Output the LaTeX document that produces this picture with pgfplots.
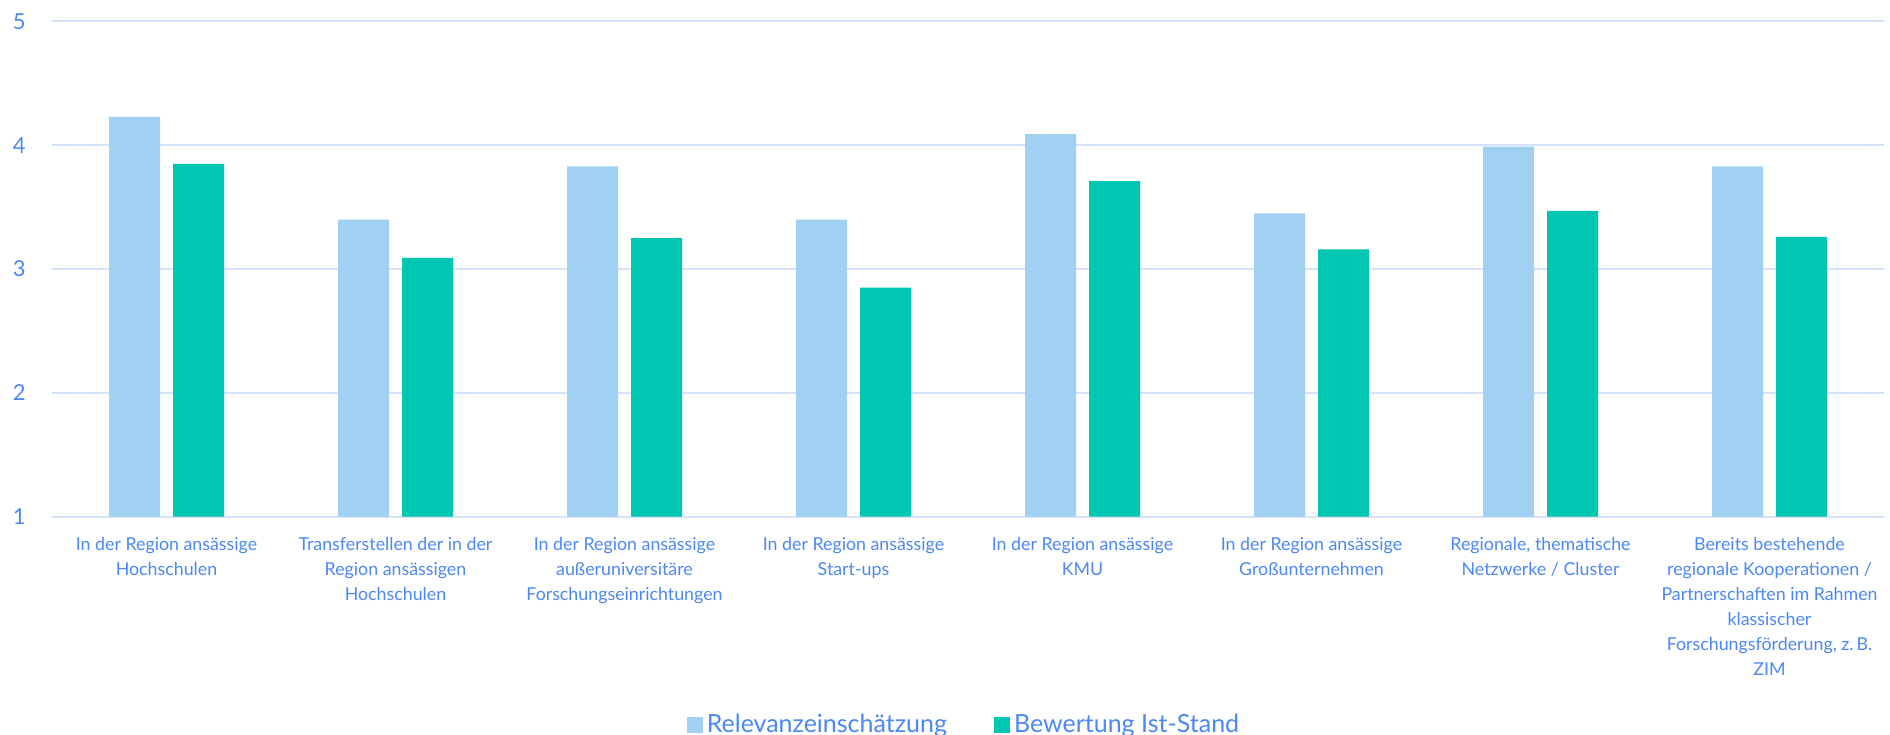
\documentclass[border=0pt]{standalone}
\usepackage{fontspec}
\setmainfont{Lato}
\usepackage{pgfplots}
\pgfplotsset{compat=1.18}
\definecolor{txtblue}{HTML}{4B87F5}
\definecolor{lightbar}{HTML}{A0D0F2}
\definecolor{greenbar}{HTML}{00C7B1}
\definecolor{gridc}{HTML}{D4E2FA}
\begin{document}
\begin{tikzpicture}
\begin{axis}[
  scale only axis,
  width=916pt, height=247.6pt,
  xmin=-0.5, xmax=7.5,
  ymin=1, ymax=5,
  ytick={1,2,3,4,5},
  xtick={0,...,7},
  xticklabels={
    {In der Region ansässige\\Hochschulen},
    {Transferstellen der in der\\Region ansässigen\\Hochschulen},
    {In der Region ansässige\\außeruniversitäre\\Forschungseinrichtungen},
    {In der Region ansässige\\Start-ups},
    {In der Region ansässige\\KMU},
    {In der Region ansässige\\Großunternehmen},
    {Regionale, thematische\\Netzwerke / Cluster},
    {Bereits bestehende\\regionale Kooperationen /\\Partnerschaften im Rahmen\\klassischer\\Forschungsförderung, z.\,B.\\ZIM}},
  axis line style={draw=none},
  major tick length=0pt,
  ymajorgrids,
  grid style={gridc, line width=1pt},
  /pgf/number format/assume math mode=true,
  yticklabel style={font=\fontsize{11}{13}\selectfont, text=txtblue, anchor=east, inner sep=0pt, xshift=-13pt},
  xticklabel style={font=\fontsize{8.9}{12.5}\selectfont, text=txtblue, align=center, anchor=north, inner sep=0pt, yshift=-10pt},
  ybar,
  bar width=25.5pt,
  legend style={draw=none, at={(axis description cs:0.4956,0)}, anchor=center, yshift=-104pt, xshift=2.5pt,
    font=\fontsize{12.5}{14}\selectfont, text=txtblue, legend columns=2,
    /tikz/every even column/.append style={column sep=21.5pt}},
  legend image code/.code={\fill[#1] (0pt,-4pt) rectangle (8pt,4pt);},
]
\addplot[fill=lightbar, draw=none, bar shift=-16pt] coordinates {
  (0,4.23) (1,3.40) (2,3.83) (3,3.40) (4,4.09) (5,3.45) (6,3.99) (7,3.83)};
\addplot[fill=greenbar, draw=none, bar shift=16pt] coordinates {
  (0,3.85) (1,3.09) (2,3.25) (3,2.85) (4,3.71) (5,3.16) (6,3.47) (7,3.26)};
\legend{Relevanzeinschätzung, Bewertung Ist-Stand}
\end{axis}
\pgfresetboundingbox
\path[use as bounding box] ([xshift=-26pt,yshift=-109.15pt]current axis.south west) rectangle ([xshift=3pt,yshift=10.75pt]current axis.north east);
\end{tikzpicture}
\end{document}
